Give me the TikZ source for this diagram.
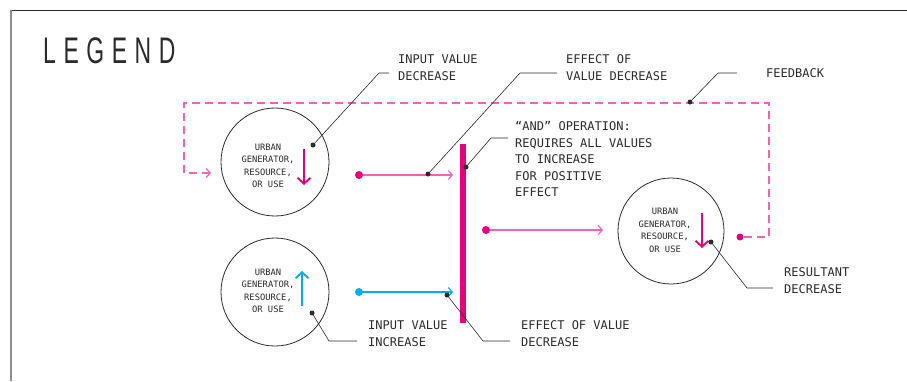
\documentclass[tikz,border=0pt]{standalone}
\usepackage{fontspec}
\usepackage{graphicx}
\setmainfont{DejaVu Sans Mono}
\newfontfamily\titlefont{Liberation Sans}
\usetikzlibrary{arrows.meta,calc}
\definecolor{ULpink}{HTML}{E6007E}
\definecolor{ULpinklight}{HTML}{F064B2}
\definecolor{ULblue}{HTML}{00AEEF}
\definecolor{ULink}{HTML}{2B2B2B}
\tikzset{
  unit/.style={draw=ULink,circle,line width=0.8pt,inner sep=0pt},
  unittext/.style={align=center,inner sep=0pt,font=\fontsize{8.8}{12.5}\selectfont,text=ULink},
  lbl/.style={align=left,anchor=north west,inner sep=0pt,font=\fontsize{12}{16.5}\selectfont,text=ULink},
  inarr/.style={-{Straight Barb[length=4pt,width=9pt]},line width=1.1pt},
  valarr/.style={-{Straight Barb[length=6pt,width=13pt]},line width=1.8pt},
  srcdot/.style={circle,inner sep=0pt,minimum size=8pt},
  pindot/.style={circle,fill=ULink,inner sep=0pt,minimum size=5pt},
  leader/.style={draw=ULink,line width=0.6pt},
  feedline/.style={ULpinklight,line width=1.2pt,dash pattern=on 8pt off 5pt}
}

\begin{document}
\begin{tikzpicture}[x=1pt,y=-1pt]
\useasboundingbox (0,0) rectangle (907,381);
% frame
\draw[ULink,line width=0.9pt] (11,10) -- (907,10);
\draw[black!45,line width=1.6pt] (11,10) -- (11,381);

\node[anchor=west,inner sep=0pt,text=ULink] (legend) at (43,51)
  {\scalebox{0.62}[1]{\titlefont\fontsize{37}{37}\selectfont\addfontfeature{LetterSpace=33}LEGEND}};

% urban units
\node[unit,minimum size=108pt] (u1) at (275,162) {};
\node[unit,minimum size=108pt] (u2) at (275,292) {};
\node[unit,minimum size=106pt] (u3) at (671,231) {};
\node[unittext] (t1) at (268,166) {URBAN\\GENERATOR,\\RESOURCE,\\OR USE};
\node[unittext] (t2) at (268,291) {URBAN\\GENERATOR,\\RESOURCE,\\OR USE};
\node[unittext] (t3) at (665,230.5) {URBAN\\GENERATOR,\\RESOURCE,\\OR USE};

\draw[valarr,ULpink] ($(u1)+(29,-13)$) -- ++(0,36);
\draw[valarr,ULblue] ($(u2)+(27,14)$) -- ++(0,-35);
\draw[valarr,ULpink] ($(u3)+(31,-18)$) -- ++(0,35);

% and operation
\node[fill=ULpink,minimum width=6pt,minimum height=179pt,inner sep=0pt] (andbar) at (463,233.5) {};

\node[srcdot,fill=ULpink] (s1) at (359,175) {};
\node[srcdot,fill=ULblue] (s2) at (359,292) {};
\node[srcdot,fill=ULpink] (s3) at (486,230) {};
\coordinate (e1) at (453,175);
\coordinate (e2) at (453,292);
\coordinate (e3) at (603,230);
\draw[inarr,ULpinklight] (s1) -- (e1);
\draw[inarr,ULblue] (s2) -- (e2);
\draw[inarr,ULpinklight] (s3) -- (e3);

% feedback
\node[srcdot,fill=ULpink,minimum size=7pt] (fb) at (740,237) {};
\coordinate (fbR) at (769,103);
\coordinate (fbL) at (184,173);
\coordinate (fbE) at (211,173);
\draw[feedline,-{Straight Barb[length=4pt,width=9pt]}] (fb) -| (fbR) -| (fbL) -- (fbE);

% labels
\node[lbl] (l1) at (398,54.6) {INPUT VALUE\\DECREASE};
\node[lbl] (l2) at (566,54.6) {EFFECT OF\\VALUE DECREASE};
\node[lbl] (l3) at (515,121.6) {``AND'' OPERATION:\\REQUIRES ALL VALUES\\TO INCREASE\\FOR POSITIVE\\EFFECT};
\node[lbl,anchor=west] (l4) at (766,73) {FEEDBACK};
\node[lbl] (l5) at (784,267.6) {RESULTANT\\DECREASE};
\node[lbl] (l6) at (368,320.6) {INPUT VALUE\\INCREASE};
\node[lbl] (l7) at (521,320.6) {EFFECT OF VALUE\\DECREASE};

% leaders
\node[pindot] (p1) at (313,145) {};
\node[pindot] (p2) at (428,174) {};
\node[pindot] (p3) at (466,167) {};
\node[pindot] (p4) at (690,102) {};
\node[pindot] (p5) at (711,242) {};
\node[pindot] (p6) at (312,313) {};
\node[pindot] (p7) at (447,295) {};
\draw[leader] (p1.center) -- (379,73) -- ($(l1.west |- 0,73)+(-9,0)$);
\draw[leader] (p2.center) -- (520,73) -- ($(l2.west |- 0,73)+(-9,0)$);
\draw[leader] (p3.center) -- (491,138) -- ($(l3.west |- 0,138)+(-7,0)$);
\draw[leader] (p4.center) -- (718,73) -- ($(l4.west)+(-29,0)$);
\draw[leader] (p5.center) -- (747,288) -- ($(l5.west |- 0,288)+(-11,0)$);
\draw[leader] (p6.center) -- (329,341) -- ($(l6.west |- 0,341)+(-11,0)$);
\draw[leader] (p7.center) -- (483,341) -- ($(l7.west |- 0,341)+(-11,0)$);
\end{tikzpicture}
\end{document}
